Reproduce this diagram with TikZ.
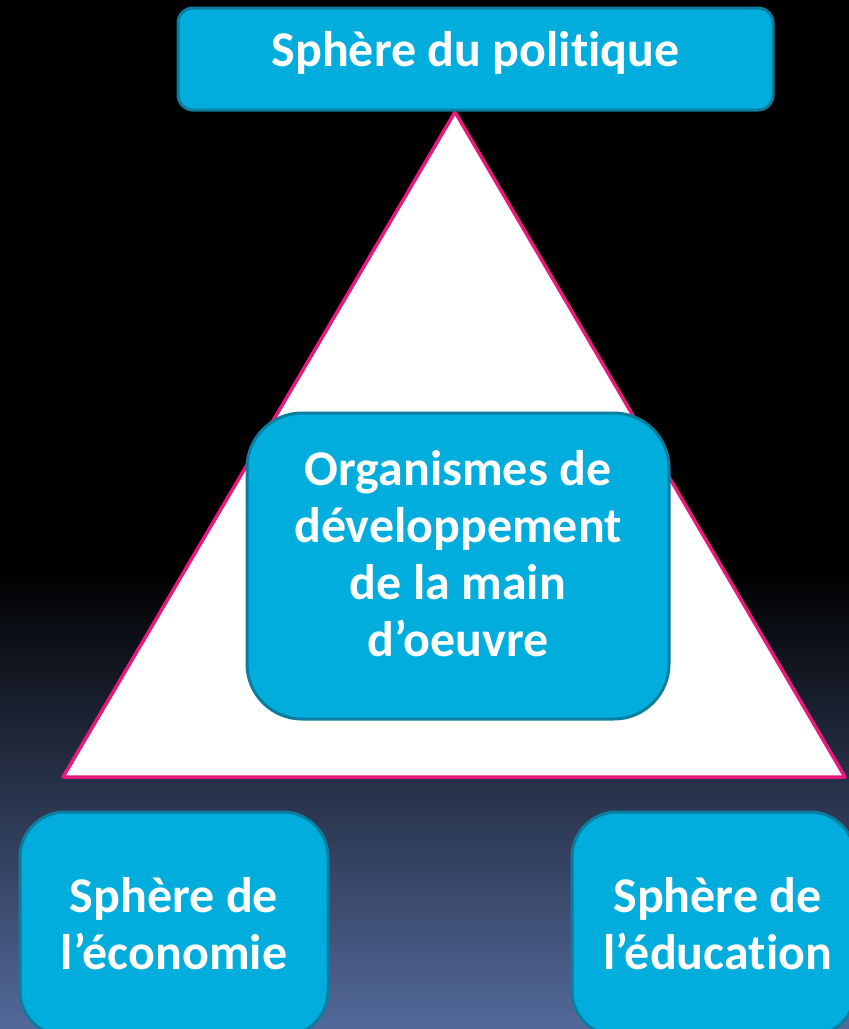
\documentclass[tikz,border=0pt]{standalone}
\usepackage{fontspec}
\setmainfont[Ligatures={NoCommon}]{Carlito}
\definecolor{boxfill}{HTML}{00ADDC}
\definecolor{boxline}{HTML}{0B7EA0}
\definecolor{tripink}{HTML}{E8197C}
\definecolor{bgmid}{HTML}{262D42}
\definecolor{bgbot}{HTML}{53699A}
\tikzset{
  sbox/.style={draw=boxline, line width=3pt, fill=boxfill, inner sep=0pt},
  stxt/.style={text=white, align=center, font=\bfseries\fontsize{50}{57}\selectfont, inner sep=0pt}
}
\begin{document}
\begin{tikzpicture}[x=1pt,y=-1pt]
\useasboundingbox (0,0) rectangle (849,1029);
\clip (0,0) rectangle (849,1029);
% background
\fill[black] (0,0) rectangle (849,570);
\shade[top color=black, middle color=bgmid, bottom color=bgbot] (0,570) rectangle (849,1029);
% triangle
\coordinate (apex) at (455,112);
\coordinate (bl) at (63,777);
\coordinate (br) at (845,777);
\draw[tripink, line width=3.5pt, fill=white, line join=round] (apex) -- (bl) -- (br) -- cycle;
% boxes
\node[sbox, rounded corners=15pt, minimum width=595pt, minimum height=102pt] (pol) at (475.5,59) {};
\node[stxt] at ([yshift=6pt]pol.center) {Sphère du politique};
\node[sbox, rounded corners=55pt, minimum width=422pt, minimum height=306pt] (mid) at (458,566) {};
\node[stxt] at ([yshift=12pt]mid.center) {Organismes de\\développement\\de la main\\d’oeuvre};
\node[sbox, rounded corners=45pt, minimum width=308pt, minimum height=224pt] (eco) at (174,924) {};
\node[stxt] at (eco.center) {Sphère de\\l’économie};
\node[sbox, rounded corners=45pt, minimum width=283pt, minimum height=224pt] (edu) at (713.5,924) {};
\node[stxt] at ([xshift=4pt]edu.center) {Sphère de\\l’éducation};
\end{tikzpicture}
\end{document}
